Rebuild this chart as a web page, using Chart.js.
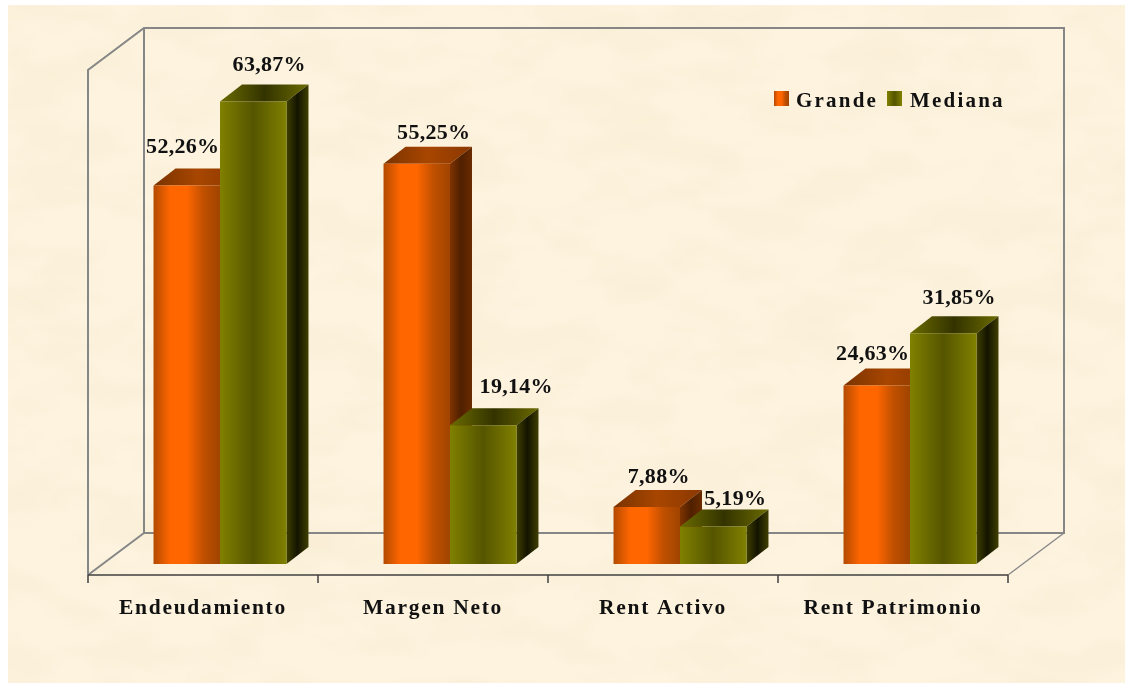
<!DOCTYPE html>
<html><head><meta charset="utf-8">
<style>
html,body{margin:0;padding:0;background:#fff;width:1129px;height:687px;overflow:hidden}
#bg{position:absolute;left:8px;top:5px;width:1117px;height:678px;background:#fdf3df}
#bg svg{position:absolute;left:0;top:0}
canvas{position:absolute;left:0;top:0}
</style>
<script src="https://cdn.jsdelivr.net/npm/chart.js@4"></script>
</head><body>
<div id="bg"><svg width="1117" height="678"><filter id="n" x="0" y="0" width="100%" height="100%"><feTurbulence type="fractalNoise" baseFrequency="0.012 0.025" numOctaves="3" seed="7"/><feColorMatrix values="0 0 0 0 0.93  0 0 0 0 0.83  0 0 0 0 0.62  1.1 0 0 0 -0.42"/></filter><rect width="1117" height="678" filter="url(#n)"/></svg></div>
<canvas id="c" width="1129" height="687"></canvas>
<script>
const categories = ["Endeudamiento","Margen Neto","Rent Activo","Rent Patrimonio"];
const seriesNames = ["Grande","Mediana"];
const grande = [52.26,55.25,7.88,24.63];
const mediana = [63.87,19.14,5.19,31.85];
const axisMax = 70;

const DX=22, DY=-17, SERIF='"Liberation Serif",serif';
const labelNudge=[[[-4,-38],[17,-31],[12,-30],[-4,-31]],[[16,-36],[33,-38],[22,-27],[16,-35]]];
const faces=[
 {front:['#b34a00','#ff6600','#ff6600','#c05000','#a04400'],top:['#7a3300','#a84600','#8a3800'],side:['#7f3300','#4f2000','#6b2b00']},
 {front:['#808000','#555500','#808000'],top:['#6b6b00','#333300','#6b6b00'],side:['#3f3f00','#141400','#3f3f00']}
];
function grad(ctx,x0,x1,stops){const g=ctx.createLinearGradient(x0,0,x1,0);stops.forEach((c,i)=>g.addColorStop(i/(stops.length-1),c));return g;}
function fmt(v){return v.toFixed(2).replace('.',',')+'%';}

const frame3d={id:'frame3d',
 beforeDraw(chart){chart.ctx.letterSpacing='1.7px';},
 beforeDatasetsDraw(chart){
  const c=chart.ctx,a=chart.chartArea,L=a.left-17,R=a.right-17,B=a.bottom+11,T=B-505,wx=56,wy=-42;
  c.save();c.letterSpacing='0px';
  c.strokeStyle='#868686';c.lineWidth=2;c.beginPath();
  c.moveTo(L,B);c.lineTo(L,T);c.lineTo(L+wx,T+wy);c.lineTo(R+wx,T+wy);c.lineTo(R+wx,B+wy);c.lineTo(L+wx,B+wy);c.lineTo(L+wx,T+wy);
  c.moveTo(L,B);c.lineTo(L+wx,B+wy);c.stroke();
  c.lineWidth=1.3;c.beginPath();c.moveTo(R,B);c.lineTo(R+wx,B+wy);c.stroke();
  c.strokeStyle='#404040';c.lineWidth=1.5;c.beginPath();c.moveTo(L,B);c.lineTo(R,B);
  for(let i=0;i<=categories.length;i++){const x=L+(R-L)*i/categories.length;c.moveTo(x,B);c.lineTo(x,B+8);}
  c.stroke();
  // depth faces, per dataset and per bar, taken from the bars placed by the scales
  [0,1].forEach(d=>{
   chart.getDatasetMeta(d).data.forEach(b=>{
    const l=b.x-b.width/2,r=b.x+b.width/2,t=b.y,bt=b.base;
    c.fillStyle=grad(c,l,r+DX,faces[d].top);
    c.beginPath();c.moveTo(l,t);c.lineTo(l+DX,t+DY);c.lineTo(r+DX,t+DY);c.lineTo(r,t);c.closePath();c.fill();
    c.fillStyle=grad(c,r,r+DX,faces[d].side);
    c.beginPath();c.moveTo(r,t);c.lineTo(r+DX,t+DY);c.lineTo(r+DX,bt+DY);c.lineTo(r,bt);c.closePath();c.fill();
   });
  });
  c.restore();
 },
 afterDatasetsDraw(chart){
  const c=chart.ctx;c.save();
  c.font='bold 22px '+SERIF;c.fillStyle='#111';c.textAlign='center';c.textBaseline='middle';c.letterSpacing='0.3px';
  chart.data.datasets.forEach((ds,d)=>{
   chart.getDatasetMeta(d).data.forEach((b,i)=>{
    c.fillText(fmt(ds.data[i]),b.x+labelNudge[d][i][0],b.y+labelNudge[d][i][1]);
   });
  });
  // legend
  c.font='bold 21px '+SERIF;c.textAlign='left';c.letterSpacing='2.2px';
  const a=chart.chartArea;
  const items=[[669,691],[782,805]];
  chart.data.datasets.forEach((ds,d)=>{
   const sx=a.left+items[d][0],tx=a.left+items[d][1];
   c.fillStyle=grad(c,sx,sx+15,faces[d].front);
   c.fillRect(sx,a.top+34,15,15);
   c.fillStyle='#111';c.fillText(ds.label,tx,a.top+45);
  });
  c.restore();
 }
};

function frontFill(d){return ctx=>{
  const chart=ctx.chart,xs=chart.scales.x;
  if(ctx.dataIndex===undefined||!xs)return faces[d].front[0];
  const w=xs.getPixelForValue(1)-xs.getPixelForValue(0),bw=w*0.578/2,cx=xs.getPixelForValue(ctx.dataIndex);
  if(!isFinite(w)||!isFinite(cx))return faces[d].front[0];
  const x0=d===0?cx-bw:cx;
  return grad(chart.ctx,x0,x0+bw,faces[d].front);
};}

new Chart(document.getElementById('c'),{
 type:'bar',
 data:{labels:categories,datasets:[
  {label:seriesNames[0],data:grande,backgroundColor:frontFill(0),borderWidth:0},
  {label:seriesNames[1],data:mediana,backgroundColor:frontFill(1),borderWidth:0}
 ]},
 options:{
  responsive:false,animation:false,
  layout:{padding:{left:105,right:104,top:57,bottom:0}},
  datasets:{bar:{categoryPercentage:0.578,barPercentage:1}},
  plugins:{legend:{display:false},tooltip:{enabled:false},title:{display:false}},
  scales:{
   x:{grid:{display:false,drawTicks:false},border:{display:false},
      afterFit(s){s.height=123;},
      ticks:{labelOffset:-17,padding:32,autoSkip:false,maxRotation:0,color:'#111',font:{family:SERIF,size:21.5,weight:'bold'}}},
   y:{display:false,min:0,max:axisMax}
  }
 },
 plugins:[frame3d]
});
</script>
</body></html>
